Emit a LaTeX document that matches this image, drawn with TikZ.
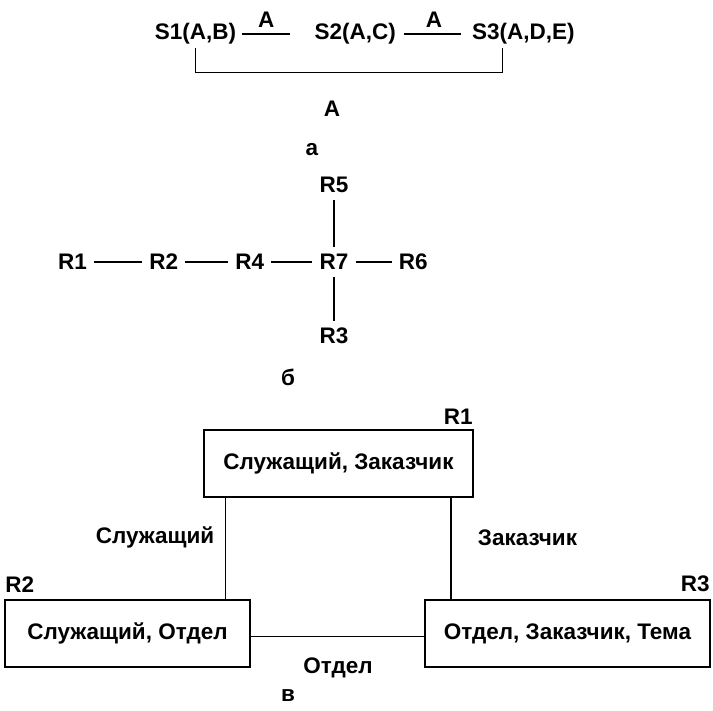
\documentclass[tikz,border=0pt]{standalone}
\usepackage{fontspec}
\setmainfont{Liberation Sans}
\usepackage{tikz}
\usetikzlibrary{positioning,calc}

\begin{document}
\begin{tikzpicture}[
  x=1pt,y=1pt,
  every node/.style={font=\fontsize{22.5}{26}\selectfont\bfseries},
  rel/.style={inner sep=3pt},
  box/.style={draw,line width=1.6pt,inner sep=0pt,minimum height=67pt},
  link/.style={line width=1.4pt},
  rlink/.style={link,shorten <=4pt,shorten >=4pt},
  tag/.style={inner sep=1pt}
]
\useasboundingbox (0,0) rectangle (713,-711);

% a
\node[rel] (s1) at (195.5,-34) {S1(A,B)};
\node[rel,right=72pt of s1] (s2) {S2(A,C)};
\node[rel,right=70pt of s2] (s3) {S3(A,D,E)};
\draw[link,shorten <=3pt,shorten >=21pt] (s1) -- node[pos=0.375,above=5pt,tag]{A} (s2);
\draw[link,shorten <=5pt,shorten >=8pt] (s2) -- node[above=5pt,tag]{A} (s3);
\draw[link] (s1.south) -- ++(0,-25) -| ([xshift=-21pt]s3.south);
\node[tag] (attr) at (332,-109) {A};
\node[tag] (capa) at (312,-150) {а};

% b
\node[rel] (r1) at (72.5,-262) {R1};
\node[rel,right=56pt of r1] (r2) {R2};
\node[rel,right=51pt of r2] (r4) {R4};
\node[rel,right=49pt of r4] (r7) {R7};
\node[rel,right=44pt of r7] (r6) {R6};
\node[rel,above=55pt of r7] (r5) {R5};
\node[rel,below=52pt of r7] (r3) {R3};
\draw[rlink] (r1) -- (r2);
\draw[rlink] (r2) -- (r4);
\draw[rlink] (r4) -- (r7);
\draw[rlink] (r7) -- (r6);
\draw[rlink] (r7) -- (r5);
\draw[rlink] (r7) -- (r3);
\node[tag] (capb) at (288,-377) {б};

% v
\node[box,minimum width=269pt] (box1) at (338.5,-463.5) {Служащий, Заказчик};
\node[box,minimum width=245pt] (box2) at (127.5,-633.5) {Служащий, Отдел};
\node[box,minimum width=285pt] (box3) at (567.5,-633.5) {Отдел, Заказчик, Тема};
\node[tag,anchor=south east] (n1) at ([yshift=3pt]box1.north east) {R1};
\node[tag,anchor=south west] (n2) at ([yshift=6pt]box2.north west) {R2};
\node[tag,anchor=south east] (n3) at ([yshift=6pt]box3.north east) {R3};
\draw[link] ([xshift=22pt]box1.south west) -- ([xshift=22pt]box1.south west |- box2.north);
\draw[link] ([xshift=-23pt]box1.south east) -- ([xshift=-23pt]box1.south east |- box3.north);
\draw[link] ([yshift=-3pt]box2.east) -- ([yshift=-3pt]box3.west);
\node[tag] (emp) at (155,-537) {Служащий};
\node[tag] (cust) at (527.5,-538) {Заказчик};
\node[tag] (dept) at (338,-668) {Отдел};
\node[tag] (capv) at (288,-696) {в};
\end{tikzpicture}
\end{document}
